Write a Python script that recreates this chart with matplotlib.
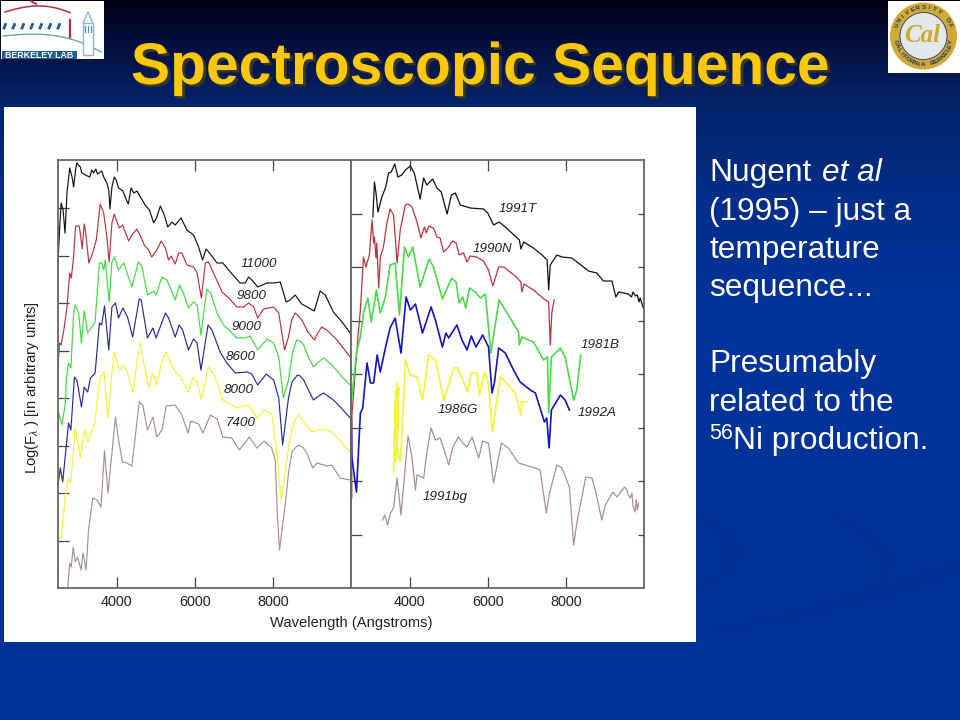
import numpy as np
import matplotlib
matplotlib.use("Agg")
import matplotlib.pyplot as plt
import matplotlib.patheffects as pe
from matplotlib.patches import Rectangle, Circle, PathPatch
from matplotlib.path import Path

plt.rcParams['font.family'] = ['Liberation Sans', 'DejaVu Sans']
plt.rcParams['mathtext.fontset'] = 'custom'
plt.rcParams['mathtext.rm'] = 'Liberation Sans'
plt.rcParams['mathtext.it'] = 'Liberation Sans:italic'

# left panel, models by temperature (flux is log, arbitrary zero)
wl_11000 = [2500,2540,2580,2630,2680,2730,2800,2860,2900,2950,2980,3070,3110,3200,3310,3370,3410,3470,3510,3620,3680,3750,3800,3830,3880,3940,3990,4050,4160,4250,4300,4370,4440,4520,4610,4730,4840,4950,5030,5120,5220,5310,5420,5500,5650,5800,5970,6100,6200,6290,6400,6570,6720,6910,7160,7290,7380,7510,7610,7850,8020,8190,8340,8440,8570,8740,9060,9210,9340,9550,9770,9980]
flux_11000 = [325,358,385,378,355,395,420,411,401,418,425,421,415,413,411,418,415,419,414,417,410,405,398,379,401,411,408,400,397,388,384,400,395,397,391,383,378,365,371,382,373,361,366,363,370,358,353,341,328,339,334,325,325,316,305,305,311,306,301,305,305,306,286,288,293,284,277,297,293,276,266,255]

wl_9800 = [2500,2540,2580,2650,2730,2800,2840,2900,2950,3040,3070,3120,3170,3210,3290,3370,3480,3580,3670,3750,3810,3880,3940,4010,4070,4150,4310,4390,4520,4610,4710,4820,4900,5030,5140,5250,5330,5400,5500,5590,5670,5800,5970,6060,6170,6270,6350,6480,6700,6870,7080,7250,7380,7510,7610,7760,8020,8150,8230,8300,8400,8480,8570,8650,8740,8900,9060,9150,9250,9380,9640,9980]
flux_9800 = [221,245,243,258,281,315,310,331,362,362,355,339,364,355,325,333,348,384,375,351,326,365,374,366,360,363,347,353,359,352,343,338,331,338,347,340,328,332,324,335,335,323,321,315,290,325,326,315,296,290,281,281,285,281,270,279,281,275,255,238,251,268,275,272,268,256,248,255,261,258,248,231]

wl_9000 = [2500,2520,2600,2690,2710,2770,2830,2900,2940,3030,3100,3170,3260,3450,3560,3620,3670,3710,3810,3880,3940,4050,4180,4390,4560,4650,4790,4950,5010,5160,5290,5500,5610,5710,5840,5970,6060,6160,6310,6410,6570,6740,7080,7290,7420,7610,7850,8020,8150,8270,8400,8500,8610,8700,8790,8920,9040,9170,9300,9510,9750,9980]
flux_9000 = [158,175,163,185,208,225,220,275,283,275,245,277,255,266,325,325,318,328,286,326,331,318,325,301,326,321,293,297,293,311,308,288,303,295,280,286,283,253,299,295,275,263,250,250,252,238,249,245,231,190,208,235,248,247,243,230,221,226,230,223,212,203]

wl_8600 = [2500,2560,2620,2770,2830,2920,2980,3020,3100,3170,3260,3330,3450,3560,3620,3690,3800,3880,3970,4050,4160,4280,4410,4580,4630,4790,4930,5010,5250,5330,5500,5600,5690,5840,5970,6060,6160,6340,6440,6650,6820,7040,7340,7460,7610,7830,8020,8150,8250,8400,8490,8630,8700,8790,8910,9040,9170,9300,9550,9750,9980]
flux_8600 = [103,120,106,165,158,211,208,200,181,201,196,210,215,265,263,282,238,281,285,270,280,271,251,289,288,250,260,250,275,270,251,263,258,238,249,245,218,263,258,236,225,215,216,214,203,214,208,190,143,190,206,213,212,208,198,188,192,195,188,180,170]

wl_8000 = [2500,2580,2690,2770,2830,2940,3070,3180,3270,3450,3560,3580,3680,3780,3860,3940,4080,4180,4280,4420,4530,4610,4680,4820,4920,5030,5150,5260,5380,5500,5630,5830,5950,6060,6170,6350,6520,6720,7080,7380,7590,7800,7980,8100,8210,8330,8440,8560,8660,8800,9000,9150,9300,9510,9750,9980]
flux_8000 = [50,50,91,110,105,161,130,158,146,166,208,211,216,170,208,236,218,223,215,196,228,246,228,200,215,203,225,236,226,216,211,196,210,206,188,221,211,188,180,183,170,178,173,135,88,120,151,168,173,165,156,158,159,156,146,136]

wl_7400 = [2750,2800,2840,2890,2940,3000,3090,3140,3220,3280,3390,3500,3600,3690,3780,3970,4050,4150,4260,4390,4580,4670,4790,4930,5030,5160,5270,5500,5670,5830,5900,6100,6210,6400,6570,6720,6950,7140,7400,7590,7780,7970,8060,8120,8170,8240,8320,8400,8490,8590,8680,8780,8870,9020,9130,9380,9510,9720,9980]
flux_7400 = [1,25,21,41,26,31,18,35,18,58,90,88,81,137,95,171,148,126,125,122,186,183,158,171,151,158,182,183,173,155,167,164,155,173,169,151,150,138,151,140,147,140,128,70,38,60,85,115,136,141,143,140,135,120,125,122,123,110,108]

# right panel, observed supernovae
wl_1991T = [3060,3100,3140,3190,3290,3390,3460,3530,3620,3700,3800,3890,4020,4120,4200,4270,4360,4440,4590,4700,4810,4960,5070,5170,5300,5550,5890,6000,6150,6290,6450,6700,6810,6850,6920,7170,7390,7520,7560,7600,7770,7900,8150,8320,8580,8790,8960,9180,9280,9350,9600,9680,9720,9780,9830,9870,9900,9950,9990]
flux_1991T = [371,406,395,376,391,401,415,416,424,411,413,418,422,415,401,389,410,403,409,400,396,374,393,395,383,380,379,375,363,366,361,352,348,339,346,340,333,328,298,323,333,331,330,325,317,315,307,307,291,296,294,291,296,292,293,286,290,284,279]

wl_1990N = [2520,2520,2650,2740,2820,2880,2970,3040,3080,3100,3140,3160,3210,3250,3330,3420,3500,3590,3680,3760,3890,3970,4060,4190,4290,4380,4430,4490,4610,4700,4780,4870,4980,5100,5190,5270,5380,5470,5550,5720,5890,6020,6130,6280,6410,6700,6850,6870,6930,7170,7470,7560,7600,7640,7700]
flux_1990N = [90,171,238,278,331,321,333,368,345,351,330,345,300,331,341,365,379,373,325,358,383,384,381,366,350,361,355,362,360,351,350,336,340,347,345,333,335,326,332,331,327,318,302,321,321,312,306,296,304,298,288,286,243,275,288]

wl_1981B = [2520,2650,2740,2820,2930,3020,3150,3250,3380,3500,3630,3740,3870,3970,4080,4270,4500,4610,4840,5080,5190,5270,5360,5440,5530,5680,5810,5940,6080,6290,6450,6790,6810,6870,7170,7430,7530,7560,7630,7860,7980,8200,8280,8380]
flux_1981B = [190,238,251,275,290,266,298,275,291,323,325,273,341,331,341,301,329,321,289,310,306,285,291,280,300,296,290,294,235,288,278,256,243,251,246,228,231,175,231,240,231,188,198,233]

wl_1992A = [2510,2520,2640,2740,2800,2910,3000,3080,3170,3250,3380,3500,3630,3780,3910,4020,4150,4330,4550,4660,4840,4930,5000,5210,5340,5470,5580,5700,5870,6020,6110,6170,6280,6450,6660,6830,7090,7220,7450,7510,7570,7630,7860,7980,8090]
flux_1992A = [170,131,96,175,180,225,205,205,233,216,240,260,270,235,291,278,284,255,281,268,241,255,250,263,248,238,252,241,253,241,195,205,240,235,218,206,198,195,166,170,140,178,193,188,178]

wl_1986G = [3590,3650,3610,3680,3630,3700,3660,3720,3680,3760,3800,3870,3890,4020,4190,4330,4490,4660,4880,5130,5240,5480,5580,5720,5790,5920,6020,6120,6320,6450,6700,6850,6870,7000]
flux_1986G = [116,198,140,205,125,195,130,200,141,126,151,208,228,213,211,188,233,228,188,220,220,196,215,215,193,216,205,156,211,206,195,173,186,186]

wl_1991bg = [3310,3360,3440,3510,3590,3680,3780,3960,4060,4150,4190,4360,4440,4550,4660,4780,4870,5000,5100,5250,5360,5470,5600,5770,5870,6020,6150,6350,6530,6790,7130,7340,7500,7570,7770,7900,8090,8200,8280,8510,8670,8770,8920,9010,9200,9310,9500,9560,9600,9650,9690,9720,9770,9800,9830,9860]
flux_1991bg = [68,73,63,75,80,110,73,152,131,98,113,110,135,160,148,150,140,123,140,151,145,141,151,130,147,145,105,145,140,125,121,118,75,93,123,120,101,43,65,111,110,95,68,83,96,91,101,98,93,90,95,82,76,88,78,85]

x_ticks = [4000, 6000, 8000]
left_yticks = [47.5, 95, 142.5, 190, 237.5, 285, 332.5, 380]
right_yticks = [53.5, 107, 160.5, 214, 267.5, 321, 374.5]

BLACK, RED, GREEN, NAVY, BLUE, YELLOW, BROWN = '#111111', '#bb3340', '#4cd94c', '#2a2a9c', '#1414c8', '#f4f440', '#a89090'


def axes_px(fig, x0, y0, x1, y1):
    # pixel box, y counted from the top of the slide
    return fig.add_axes([x0 / 960, 1 - y1 / 720, (x1 - x0) / 960, (y1 - y0) / 720])


def swoosh(ax, outer, inner):
    # thin crescent: out along one curve, back along the other
    verts = outer + inner + [outer[0]]
    codes = [Path.MOVETO, Path.CURVE3, Path.CURVE3, Path.LINETO, Path.CURVE3, Path.CURVE3, Path.CLOSEPOLY]
    ax.add_patch(PathPatch(Path(verts, codes), fc='#002a80', ec='none', alpha=0.25, zorder=0.5))


def draw_background(ax):
    rows = np.linspace(0, 720, 360)
    red = np.interp(rows, [0, 30, 100, 200, 300], [0, 2, 5, 2, 0])
    green = np.interp(rows, [0, 30, 100, 200, 300], [0, 10, 35, 46, 51])
    blue = np.interp(rows, [0, 30, 100, 200, 300], [20, 50, 105, 138, 153])
    img = np.stack([red, green, blue], axis=1) / 255
    ax.imshow(img[:, None, :], extent=[0, 960, 720, 0], aspect='auto', zorder=0)
    swoosh(ax, [(696, 513), (790, 545), (696, 595)], [(696, 590), (755, 548), (696, 520)])
    swoosh(ax, [(825, 512), (925, 545), (875, 592)], [(872, 588), (895, 545), (825, 516)])
    swoosh(ax, [(960, 558), (850, 600), (700, 632)], [(720, 632), (860, 612), (960, 572)])
    ax.add_patch(Rectangle((4, 107), 692, 535, fc='white', ec='none', zorder=1))


def draw_lab_logo(ax):
    ax.add_patch(Rectangle((1, 1), 103, 58, fc='white', ec='none', zorder=2))
    t = np.linspace(0, 1, 40)
    ax.plot(5 + 65 * t, 12 - 9 * np.sin(t * 2.2) + 8 * t ** 2, color='#b03040', lw=1.1, zorder=3)
    ax.plot([70, 70], [20, 38], color='#b03040', lw=1.6, zorder=3)
    ax.plot([31, 36], [1, 4], color='#b03040', lw=1.4, zorder=3)
    ax.plot(3 + 98 * t, 36 - 6 * np.sin(t * 1.6) + 22 * t ** 2.6, color='#6fa8a0', lw=1, zorder=3)
    for dash_x in range(4, 62, 9):
        ax.plot([dash_x, dash_x + 1.5], [28, 24.5], color='#1f5f8f', lw=2, zorder=3)
    ax.add_patch(Rectangle((83, 23), 10, 32, fc='white', ec='#8fb4cc', lw=1, zorder=3))
    ax.plot([83, 88, 93], [23, 12, 23], color='#8fb4cc', lw=1, zorder=3)
    for win_x in (85, 88, 91):
        ax.plot([win_x, win_x], [26, 32], color='#5f8fae', lw=0.9, zorder=3)
    ax.add_patch(Rectangle((2, 51), 75, 8, fc='#1f5f8f', ec='none', zorder=3))
    ax.text(39.5, 55.2, 'BERKELEY LAB', color='white', fontsize=6.3, fontweight='bold',
            ha='center', va='center', zorder=4)


def draw_seal(ax):
    ax.add_patch(Rectangle((888, 1), 72, 72, fc='white', ec='none', zorder=2))
    cx, cy = 923.5, 36
    ax.add_patch(Circle((cx, cy), 33.5, fc='#cfa933', ec='none', zorder=3))
    ax.add_patch(Circle((cx, cy), 23.5, fc='#e3e8ea', ec='#23356b', lw=0.6, zorder=4))
    top_text = 'UNIVERSITY OF'
    for i, ch in enumerate(top_text):
        ang = np.radians(-68 + i * 136 / (len(top_text) - 1))
        ax.text(cx + 28.5 * np.sin(ang), cy - 28.5 * np.cos(ang), ch, fontsize=4.6, color='#23356b',
                fontweight='bold', rotation=-np.degrees(ang), ha='center', va='center', zorder=5)
    low_text = 'CALIFORNIA BERKELEY'
    for i, ch in enumerate(low_text):
        ang = np.radians(258 - i * 156 / (len(low_text) - 1))
        ax.text(cx + 28.5 * np.sin(ang), cy - 28.5 * np.cos(ang), ch, fontsize=4.6, color='#23356b',
                fontweight='bold', rotation=180 - np.degrees(ang), ha='center', va='center', zorder=5)
    ax.text(cx - 1, cy - 1, 'Cal', fontsize=18, style='italic', fontweight='bold', color='#c9a92e',
            family='Liberation Serif', ha='center', va='center', zorder=6)


def draw_slide_text(ax):
    ax.text(480, 84, 'Spectroscopic Sequence', color='#fdc70c', fontsize=42.3,
            fontweight='bold', ha='center', va='baseline', zorder=6,
            path_effects=[pe.withSimplePatchShadow(offset=(2.2, -1.8), shadow_rgbFace='#3d3a20', alpha=0.9)])
    body = dict(color='white', fontsize=22.8, va='baseline', zorder=5)
    ax.text(709, 181, 'Nugent', **body)
    ax.text(822, 181, 'et al', style='italic', **body)
    ax.text(709, 220, '(1995) – just a', **body)
    ax.text(709, 258, 'temperature', **body)
    ax.text(709, 296, 'sequence...', **body)
    ax.text(709, 372, 'Presumably', **body)
    ax.text(709, 411, 'related to the', **body)
    ax.text(709, 439, '56', color='white', fontsize=15.5, va='baseline', zorder=5)
    ax.text(733, 449, 'Ni production.', **body)


def style_panel(ax, yticks, left):
    ax.set_xlim(2500, 10000)
    ax.set_ylim(0, 428)
    ax.set_xticks(x_ticks)
    ax.set_yticks(yticks)
    ax.tick_params(axis='x', direction='in', top=True, length=7.7, width=0.9, color='#444444',
                   labelsize=10.4, pad=5, labelcolor='#222222')
    ax.tick_params(axis='y', direction='in', left=left, right=False, length=7.7, width=0.9,
                   color='#444444', labelleft=False)
    for spine in ax.spines.values():
        spine.set_color('#666666')
        spine.set_linewidth(1.3)


fig = plt.figure(figsize=(9.6, 7.2), dpi=100)

bg = fig.add_axes([0, 0, 1, 1])
draw_background(bg)
draw_lab_logo(bg)
draw_seal(bg)
draw_slide_text(bg)
bg.set_xlim(0, 960)
bg.set_ylim(720, 0)
bg.axis('off')

ax_l = axes_px(fig, 58, 160, 351, 588)
ax_r = axes_px(fig, 351, 160, 644, 588)

ax_l.plot(wl_11000, flux_11000, color=BLACK, lw=0.85)
ax_l.plot(wl_9800, flux_9800, color=RED, lw=0.85)
ax_l.plot(wl_9000, flux_9000, color=GREEN, lw=0.9)
ax_l.plot(wl_8600, flux_8600, color=NAVY, lw=0.85)
ax_l.plot(wl_8000, flux_8000, color=YELLOW, lw=0.9)
ax_l.plot(wl_7400, flux_7400, color=BROWN, lw=0.85)

ax_r.plot(wl_1991T, flux_1991T, color=BLACK, lw=0.9)
ax_r.plot(wl_1990N, flux_1990N, color=RED, lw=0.9)
ax_r.plot(wl_1981B, flux_1981B, color=GREEN, lw=1.2)
ax_r.plot(wl_1992A, flux_1992A, color=BLUE, lw=1.2)
ax_r.plot(wl_1986G, flux_1986G, color=YELLOW, lw=1.3)
ax_r.plot(wl_1991bg, flux_1991bg, color=BROWN, lw=0.9)

label_style = dict(fontsize=9.6, style='italic', color='#222222', va='center')
ax_l.text(7165, 324, '11000', **label_style)
ax_l.text(7080, 292, '9800', **label_style)
ax_l.text(6930, 261, '9000', **label_style)
ax_l.text(6790, 231, '8600', **label_style)
ax_l.text(6740, 198, '8000', **label_style)
ax_l.text(6780, 165, '7400', **label_style)

ax_r.text(6280, 379, '1991T', **label_style)
ax_r.text(5610, 339, '1990N', **label_style)
ax_r.text(8380, 243, '1981B', **label_style)
ax_r.text(4720, 178, '1986G', **label_style)
ax_r.text(8300, 175, '1992A', **label_style)
ax_r.text(4330, 91, '1991bg', **label_style)

style_panel(ax_l, left_yticks, True)
style_panel(ax_r, right_yticks, True)

# outer ticks of the right panel are shorter than the ones on its left edge
ax_edge = ax_r.twinx()
ax_edge.set_ylim(0, 428)
ax_edge.set_yticks(right_yticks)
ax_edge.tick_params(axis='y', direction='in', length=4.5, width=0.9, color='#444444', labelright=False)
for spine in ax_edge.spines.values():
    spine.set_visible(False)

fig.text(351 / 960, 1 - 623 / 720, 'Wavelength (Angstroms)', fontsize=10.6, color='#222222',
         ha='center', va='center')
fig.text(32 / 960, 1 - 388 / 720, 'Log(F$_{\\lambda}$ ) [in arbitrary units]', fontsize=10.7,
         color='#222222', rotation=90, ha='center', va='center')

fig.savefig('out.png', dpi=100)
